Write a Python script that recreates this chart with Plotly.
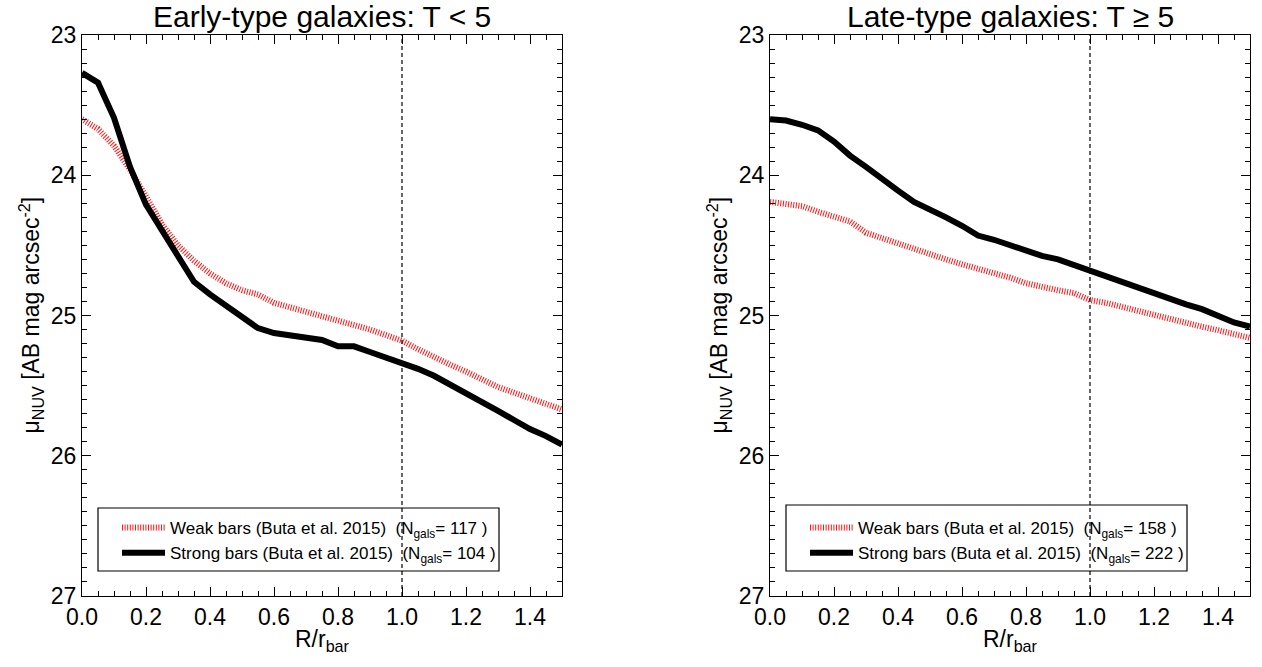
import plotly.graph_objects as go

r_bar = [round(0.05 * i, 2) for i in range(31)]

early_weak = [23.60, 23.67, 23.79, 23.96, 24.15, 24.35, 24.50, 24.61, 24.70, 24.77, 24.82,
              24.85, 24.91, 24.94, 24.97, 25.01, 25.04, 25.07, 25.10, 25.14, 25.18,
              25.24, 25.30, 25.35, 25.40, 25.46, 25.51, 25.55, 25.59, 25.63, 25.67]
early_strong = [23.27, 23.34, 23.59, 23.94, 24.21, 24.40, 24.58, 24.76, 24.85, 24.93, 25.02,
                25.09, 25.125, 25.145, 25.155, 25.175, 25.22, 25.22, 25.26, 25.30, 25.33,
                25.38, 25.43, 25.49, 25.55, 25.62, 25.68, 25.745, 25.81, 25.86, 25.92]
late_weak = [24.19, 24.20, 24.22, 24.26, 24.29, 24.33, 24.41, 24.45, 24.49, 24.53, 24.565,
             24.60, 24.635, 24.665, 24.70, 24.73, 24.77, 24.80, 24.82, 24.84, 24.89,
             24.91, 24.94, 24.965, 24.99, 25.02, 25.05, 25.08, 25.105, 25.13, 25.16]
late_strong = [23.60, 23.61, 23.64, 23.68, 23.76, 23.86, 23.94, 24.03, 24.11, 24.19, 24.24,
               24.30, 24.36, 24.43, 24.46, 24.50, 24.545, 24.575, 24.60, 24.64, 24.69,
               24.72, 24.76, 24.81, 24.85, 24.89, 24.92, 24.955, 25.00, 25.05, 25.08]

n_early = [117, 104]
n_late = [158, 222]
titles = ["Early-type galaxies: T < 5", "Late-type galaxies: T \u2265 5"]
x_ticks = [0.0, 0.2, 0.4, 0.6, 0.8, 1.0, 1.2, 1.4]
y_ticks = [23, 24, 25, 26, 27]

W, H = 1262, 667
FONT = "Liberation Sans, Arial, Helvetica, sans-serif"
NB = "\u00a0"

fig = go.Figure()

panels = [
    dict(weak=early_weak, strong=early_strong, n=n_early, xa="x", ya="y", lg="legend",
         px0=82, px1=562, box=(98, 499, 508, 571), leg_x=117),
    dict(weak=late_weak, strong=late_strong, n=n_late, xa="x2", ya="y2", lg="legend2",
         px0=770, px1=1250, box=(786, 1187, 505, 571), leg_x=805),
]

top_px, bot_px = 35, 596
ydom = [1 - bot_px / H, 1 - top_px / H]

legend_common = dict(bgcolor="rgba(0,0,0,0)", borderwidth=0,
                     font=dict(family=FONT, size=17, color="black"),
                     xanchor="left", yanchor="top", tracegroupgap=0, itemwidth=43)

for i, p in enumerate(panels):
    fig.add_trace(go.Scatter(
        x=r_bar, y=p["weak"], mode="lines", xaxis=p["xa"], yaxis=p["ya"], legend=p["lg"],
        line=dict(color="rgb(255,20,20)", width=6, dash="1px,1.6px"),
        name=f"Weak bars (Buta et al. 2015){NB}{NB}(N<sub>gals</sub>= {p['n'][0]} )"))
    fig.add_trace(go.Scatter(
        x=r_bar, y=p["strong"], mode="lines", xaxis=p["xa"], yaxis=p["ya"], legend=p["lg"],
        line=dict(color="black", width=6),
        name=f"Strong bars (Buta et al. 2015){NB}{NB}(N<sub>gals</sub>= {p['n'][1]} )"))

    sfx = "" if i == 0 else "2"
    axcommon = dict(showline=True, linecolor="black", linewidth=1.2, mirror="ticks",
                    ticks="inside", tickcolor="black", showgrid=False, zeroline=False,
                    automargin=False,
                    tickfont=dict(family=FONT, size=23, color="black"))
    fig.update_layout(**{
        "xaxis" + sfx: dict(domain=[p["px0"] / W, p["px1"] / W], range=[0, 1.5],
                            tickvals=x_ticks, ticktext=[f"{v:.1f}" for v in x_ticks],
                            ticklen=9, tickwidth=1, anchor="y" + sfx,
                            minor=dict(dtick=0.05, ticks="inside", ticklen=4.5,
                                       tickcolor="black", showgrid=False),
                            **axcommon),
        "yaxis" + sfx: dict(domain=ydom, range=[27, 23], tickvals=y_ticks,
                            ticklen=9, tickwidth=1, anchor="x" + sfx,
                            minor=dict(dtick=0.1, ticks="inside", ticklen=4.5,
                                       tickcolor="black", showgrid=False),
                            **axcommon),
        p["lg"]: dict(x=p["leg_x"] / W, y=1 - 510 / H, **legend_common),
    })

    fig.add_shape(type="line", xref=p["xa"], yref=p["ya"] + " domain", x0=1.0, x1=1.0,
                  y0=0, y1=1, line=dict(color="black", width=1.2, dash="4px,3px"))

    bx0, bx1, by0, by1 = p["box"]
    fig.add_shape(type="rect", xref="paper", yref="paper", x0=bx0 / W, x1=bx1 / W,
                  y0=1 - by1 / H, y1=1 - by0 / H, line=dict(color="black", width=1.2),
                  fillcolor="rgba(0,0,0,0)")

    cx = (p["px0"] + p["px1"]) / 2 / W
    fig.add_annotation(text=titles[i], xref="paper", yref="paper", x=cx, y=1 - 17 / H,
                       showarrow=False, font=dict(family=FONT, size=30, color="black"),
                       xanchor="center", yanchor="middle")
    fig.add_annotation(text="R/r<sub>bar</sub>", xref="paper", yref="paper", x=cx,
                       y=1 - 640 / H, showarrow=False,
                       font=dict(family=FONT, size=23, color="black"),
                       xanchor="center", yanchor="middle")
    fig.add_annotation(text="\u03bc<sub>NUV</sub> [AB mag arcsec<sup>-2</sup>]",
                       xref="paper", yref="paper", x=(p["px0"] - 52) / W,
                       y=(ydom[0] + ydom[1]) / 2, showarrow=False, textangle=-90,
                       font=dict(family=FONT, size=23, color="black"),
                       xanchor="center", yanchor="middle")

fig.update_layout(
    width=W, height=H, margin=dict(l=0, r=0, t=0, b=0, pad=0, autoexpand=False),
    autosize=False,
    paper_bgcolor="white", plot_bgcolor="white", showlegend=True,
)

fig.write_html("out.html", config={"displayModeBar": False},
               post_script="document.body.style.margin='0px';")
